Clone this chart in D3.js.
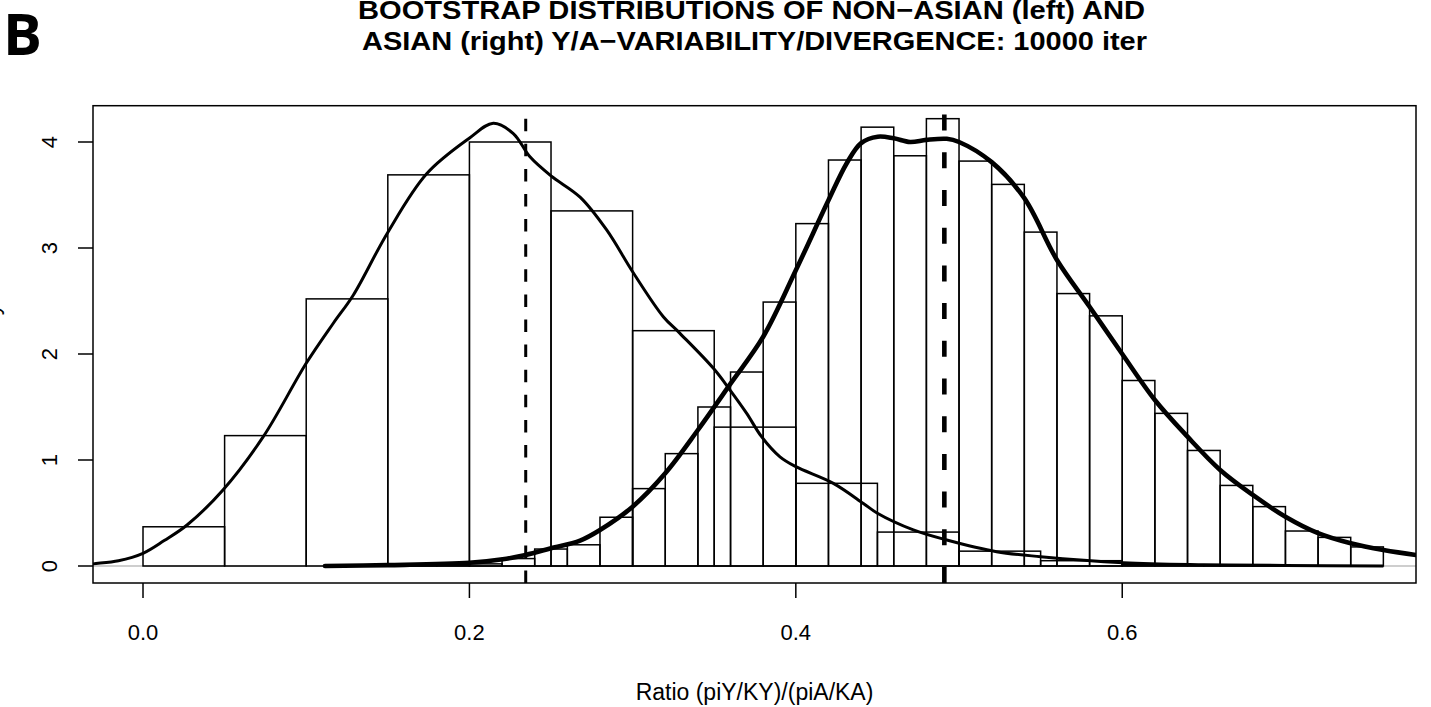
<!DOCTYPE html>
<html><head><meta charset="utf-8">
<script src="https://cdn.jsdelivr.net/npm/d3@7"></script>
<style>body{margin:0;background:#fff;} svg{display:block;}</style>
</head><body>
<svg id="chart" width="1431" height="707"></svg>
<script>
// ---- data ----
const leftBreaks = [0.00,0.05,0.10,0.15,0.20,0.25,0.30,0.35,0.40,0.45,0.50,0.55,0.60,0.65,0.70];
const leftHeights = [0.37,1.23,2.52,3.69,4.00,3.35,2.22,1.31,0.78,0.32,0.14,0.05,0.012,0.004];
const rightBreaks = [0.16,0.18,0.20,0.22,0.24,0.26,0.28,0.30,0.32,0.34,0.36,0.38,0.40,0.42,0.44,0.46,0.48,0.50,0.52,0.54,0.56,0.58,0.60,0.62,0.64,0.66,0.68,0.70,0.72,0.74,0.76];
const rightHeights = [0.002,0.005,0.02,0.07,0.16,0.20,0.46,0.73,1.06,1.50,1.83,2.49,3.23,3.83,4.14,3.87,4.22,3.82,3.60,3.15,2.57,2.36,1.75,1.44,1.09,0.76,0.56,0.33,0.27,0.18];
const leftDensX = [-0.035,-0.0305,-0.015,0.0,0.013,0.027,0.049,0.0737,0.0999,0.1166,0.1289,0.1497,0.1738,0.1999,0.2146,0.2269,0.2371,0.25,0.2678,0.2841,0.30,0.3188,0.329,0.3495,0.3597,0.3699,0.379,0.3903,0.40,0.423,0.4414,0.45,0.472,0.4925,0.523,0.55,0.6007,0.65,0.70,0.76];
const leftDensY = [0.01,0.02,0.05,0.12,0.24,0.387,0.717,1.22,1.91,2.29,2.557,3.14,3.70,4.035,4.176,4.08,3.86,3.68,3.48,3.17,2.776,2.352,2.195,1.865,1.66,1.44,1.22,1.03,0.937,0.78,0.59,0.497,0.34,0.245,0.135,0.088,0.031,0.012,0.005,0.0];
const rightDensX = [0.1115,0.15,0.20,0.2204,0.2345,0.25,0.2678,0.28,0.30,0.32,0.34,0.36,0.38,0.40,0.42,0.4312,0.44,0.4502,0.46,0.47,0.48,0.4925,0.50,0.52,0.54,0.56,0.58,0.60,0.62,0.64,0.66,0.68,0.70,0.72,0.74,0.76,0.78,0.80];
const rightDensY = [0.0,0.008,0.03,0.063,0.104,0.167,0.24,0.34,0.56,0.875,1.283,1.72,2.163,2.79,3.45,3.80,3.99,4.05,4.035,4.00,4.02,4.03,4.00,3.81,3.47,2.887,2.446,2.0,1.566,1.22,0.906,0.67,0.465,0.31,0.214,0.15,0.104,0.07];
const meanLines = [0.2345, 0.491];
const xTicks = [0.0, 0.2, 0.4, 0.6];
const xTickLabels = ["0.0","0.2","0.4","0.6"];
const yTicks = [0,1,2,3,4];
const yTickLabels = ["0","1","2","3","4"];
const titleLines = ["BOOTSTRAP DISTRIBUTIONS OF NON\u2212ASIAN (left) AND","ASIAN (right) Y/A\u2212VARIABILITY/DIVERGENCE: 10000 iter"];
const xLabel = "Ratio (piY/KY)/(piA/KA)";
const yLabel = "Density";
const panelLabel = "B";

// ---- layout ----
const box = {l:93, r:1416, t:105.7, b:583};
const x = d3.scaleLinear().domain([-0.03064, 0.78]).range([box.l, box.r]);
const y = d3.scaleLinear().domain([0, 4]).range([566, 142]);
const svg = d3.select("#chart");
const font = "'Liberation Sans', Arial, Helvetica, sans-serif";

svg.append("defs").append("clipPath").attr("id","plotclip")
  .append("rect").attr("x",box.l).attr("y",box.t).attr("width",box.r-box.l).attr("height",box.b-box.t);

const plot = svg.append("g").attr("clip-path","url(#plotclip)");

// zero line
plot.append("line").attr("x1",box.l).attr("x2",box.r).attr("y1",y(0)).attr("y2",y(0))
  .attr("stroke","#bebebe").attr("stroke-width",1.5);

function hist(breaks, heights){
  plot.append("g").selectAll("rect").data(heights).join("rect")
    .attr("x",(d,i)=>x(breaks[i]))
    .attr("width",(d,i)=>x(breaks[i+1])-x(breaks[i]))
    .attr("y",d=>y(d))
    .attr("height",d=>y(0)-y(d))
    .attr("fill","none").attr("stroke","#000").attr("stroke-width",1.5);
}
hist(leftBreaks,leftHeights);
hist(rightBreaks,rightHeights);

const line = d3.line().x(d=>x(d[0])).y(d=>y(d[1])).curve(d3.curveCatmullRom.alpha(0.5));
plot.append("path").attr("d",line(leftDensX.map((v,i)=>[v,leftDensY[i]])))
  .attr("fill","none").attr("stroke","#000").attr("stroke-width",3).attr("stroke-linejoin","round");
plot.append("path").attr("d",line(rightDensX.map((v,i)=>[v,rightDensY[i]])))
  .attr("fill","none").attr("stroke","#000").attr("stroke-width",4.6).attr("stroke-linejoin","round").attr("stroke-linecap","round");

// mean lines (drawn bottom to top like abline)
plot.append("line").attr("x1",x(meanLines[0])).attr("x2",x(meanLines[0])).attr("y1",box.b).attr("y2",box.t)
  .attr("stroke","#000").attr("stroke-width",3).attr("stroke-dasharray","12.5,12.6");
plot.append("line").attr("x1",x(meanLines[1])).attr("x2",x(meanLines[1])).attr("y1",box.b).attr("y2",box.t)
  .attr("stroke","#000").attr("stroke-width",4.6).attr("stroke-dasharray","16,21.7");

// box
svg.append("rect").attr("x",box.l).attr("y",box.t).attr("width",box.r-box.l).attr("height",box.b-box.t)
  .attr("fill","none").attr("stroke","#000").attr("stroke-width",1.5);

// x axis
const xa = svg.append("g");
xa.selectAll("line").data(xTicks).join("line")
  .attr("x1",d=>x(d)).attr("x2",d=>x(d)).attr("y1",box.b).attr("y2",box.b+15)
  .attr("stroke","#000").attr("stroke-width",1.5);
xa.selectAll("text").data(xTicks).join("text")
  .attr("x",d=>x(d)).attr("y",640).attr("text-anchor","middle")
  .attr("font-family",font).attr("font-size",22).text((d,i)=>xTickLabels[i]);

// y axis
const ya = svg.append("g");
ya.selectAll("line").data(yTicks).join("line")
  .attr("x1",box.l-15).attr("x2",box.l).attr("y1",d=>y(d)).attr("y2",d=>y(d))
  .attr("stroke","#000").attr("stroke-width",1.5);
ya.selectAll("text").data(yTicks).join("text")
  .attr("transform",d=>`translate(57,${y(d)}) rotate(-90)`)
  .attr("text-anchor","middle")
  .attr("font-family",font).attr("font-size",22).text((d,i)=>yTickLabels[i]);

// labels
svg.append("text").attr("x",754.5).attr("y",700).attr("text-anchor","middle")
  .attr("font-family",font).attr("font-size",23).text(xLabel);
svg.append("text").attr("transform","translate(-1,342) rotate(-90)").attr("text-anchor","middle")
  .attr("font-family",font).attr("font-size",23).text(yLabel);

// title
svg.append("text").attr("x",358).attr("y",18.5).attr("font-family",font).attr("font-weight","bold")
  .attr("font-size",26).attr("textLength",787).attr("lengthAdjust","spacingAndGlyphs").text(titleLines[0]);
svg.append("text").attr("x",362).attr("y",50).attr("font-family",font).attr("font-weight","bold")
  .attr("font-size",26).attr("textLength",785).attr("lengthAdjust","spacingAndGlyphs").text(titleLines[1]);

// panel label
svg.append("text").attr("x",3).attr("y",55).attr("font-family","'Open Sans', sans-serif").attr("font-weight","bold")
  .attr("font-size",58).text(panelLabel);
</script>
</body></html>
